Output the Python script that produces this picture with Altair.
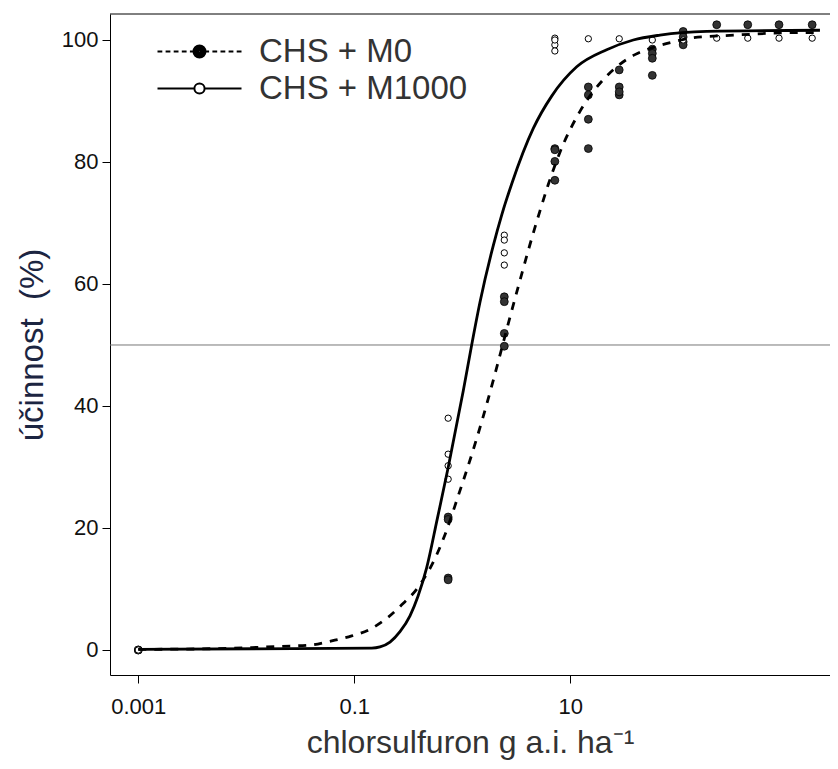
import altair as alt
import pandas as pd

# ---------------- data ----------------
S0 = "CHS + M0"
S1 = "CHS + M1000"

# observed points (dose g a.i./ha, efficacy %)
m0_dose = [0.001, 0.001, 0.74, 0.74, 0.74, 0.74,
           2.45, 2.45, 2.45, 2.45,
           7.2, 7.2, 7.2, 7.2,
           14.7, 14.7, 14.7, 14.7,
           28.4, 28.4, 28.4, 28.4,
           57.5, 57.5, 57.5, 57.5,
           111, 111, 111, 111,
           227, 440, 857, 1738]
m0_val = [0, 0, 21.8, 21.4, 11.8, 11.5,
          57.9, 57.1, 51.9, 49.8,
          82.2, 80.1, 77.0, 82.0,
          92.3, 91.0, 87.0, 82.2,
          95.1, 92.3, 91.0, 91.5,
          98.5, 97.8, 97.0, 94.2,
          101.4, 100.5, 99.7, 99.2,
          102.5, 102.5, 102.5, 102.5]

m1_dose = [0.001, 0.74, 0.74, 0.74, 0.74,
           2.45, 2.45, 2.45, 2.45,
           7.2, 7.2, 7.2, 7.2,
           14.7, 28.4, 57.5, 111,
           227, 440, 857, 1738]
m1_val = [0, 38.0, 32.1, 30.2, 28.0,
          68.0, 67.2, 65.1, 63.1,
          100.3, 99.2, 98.2, 100.0,
          100.2, 100.2, 100.0, 100.0,
          100.3, 100.3, 100.3, 100.3]

# fitted curves
c0_dose = [0.001, 0.0045, 0.0113, 0.0254, 0.0389, 0.0618, 0.0946, 0.1397, 0.2064,
           0.2748, 0.3831, 0.5794, 0.6915, 0.9183, 1.222, 1.564, 1.936, 2.201,
           2.666, 3.350, 4.084, 5.242, 6.256, 8.028, 12.30, 20.21, 26.89, 39.72,
           54.70, 89.88, 128.3, 335, 1248, 1978]
c0_val = [0.1, 0.2, 0.4, 0.65, 0.8, 1.5, 2.3, 3.4, 5.4,
          7.4, 10.1, 15.6, 18.9, 25.3, 32.0, 38.3, 44.2, 47.9,
          53.5, 60.0, 65.5, 72.0, 76.3, 81.6, 88.3, 93.5, 95.6, 97.6,
          98.6, 99.7, 100.3, 100.8, 101.2, 101.2]

c1_dose = [0.001, 0.1449, 0.1730, 0.2141, 0.2649, 0.3280, 0.3889, 0.4683, 0.5868,
           0.7420, 1.0216, 1.2218, 1.4582, 1.9364, 2.3169, 2.8672, 4.544, 6.726,
           11.47, 21.73, 38.31, 67.70, 183.2, 2051]
c1_val = [0.1, 0.3, 0.5, 1.3, 3.0, 5.6, 8.8, 13.5, 21.5,
          30.0, 42.5, 50.0, 57.0, 66.3, 71.3, 76.4, 85.5, 90.8,
          95.6, 98.4, 100.0, 100.8, 101.4, 101.6]

x_ticks = [0.001, 0.1, 10]
y_ticks = [0, 20, 40, 60, 80, 100]
ref_level = [50]

# ---------------- tables ----------------
p0 = pd.DataFrame({"dose": m0_dose, "value": m0_val, "series": S0})
p1 = pd.DataFrame({"dose": m1_dose, "value": m1_val, "series": S1})
l0 = pd.DataFrame({"dose": c0_dose, "value": c0_val, "series": S0})
l1 = pd.DataFrame({"dose": c1_dose, "value": c1_val, "series": S1})
ref = pd.DataFrame({"y": ref_level})
empty = pd.DataFrame({"dose": pd.Series([], dtype=float),
                      "value": pd.Series([], dtype=float),
                      "series": pd.Series([], dtype=str)})

W, H = 720, 661
FONT = "Liberation Sans"

xscale = alt.Scale(type="log", domain=[0.000547, 2541], nice=False)
yscale = alt.Scale(domain=[-4.1, 104.26], nice=False, zero=False)

xaxis = alt.Axis(values=x_ticks, format="~g", title="chlorsulfuron g a.i. ha⁻¹",
                 grid=False, tickSize=8, labelPadding=13, titlePadding=10)
yaxis = alt.Axis(values=y_ticks, title="účinnost\u00a0\u00a0(%)", grid=False,
                 tickSize=8, labelPadding=4, titlePadding=12)


def ring(a):
    return f"M{a},0A{a},{a} 0 1,1 -{a},0A{a},{a} 0 1,1 {a},0Z"


# legend symbols: line sample with the marker in the middle
dash_path = ("M-7,0H-6.2M-5.65,0H-4.85M-4.3,0H-3.5M-2.95,0H-2.15M-1.6,0H-1"
             "M1,0H1.6M2.15,0H2.95M3.5,0H4.3M4.85,0H5.65M6.2,0H7"
             + ring(1) + ring(0.7) + ring(0.4) + ring(0.12))
solid_path = "M-7,0H-0.85M0.85,0H7" + ring(0.85)

legend = alt.Legend(
    title=None, orient="none", legendX=73, legendY=21,
    labelFontSize=33, labelFont=FONT, labelColor="#333", labelLimit=600,
    labelOffset=43, rowPadding=3, symbolSize=144,
    symbolStrokeColor="black", symbolStrokeWidth=2, symbolOpacity=1,
    symbolFillColor="white",
)

x_enc = alt.X("dose:Q", scale=xscale, axis=xaxis)
y_enc = alt.Y("value:Q", scale=yscale, axis=yaxis)

rule50 = alt.Chart(ref).mark_rule(color="#777", strokeWidth=1).encode(
    y=alt.Y("y:Q", scale=yscale, axis=yaxis))

top_frame = alt.Chart(ref).mark_rule(color="black", strokeWidth=1).encode(
    y=alt.value(0), x=alt.value(0), x2=alt.value(W))

pts0 = alt.Chart(p0).mark_point(shape="circle", filled=True, fill="#333333",
                                stroke="black", strokeWidth=0.8, size=62,
                                opacity=1).encode(x=x_enc, y=y_enc)
pts1 = alt.Chart(p1).mark_point(shape="circle", filled=False, fill="white",
                                stroke="black", strokeWidth=1, size=40,
                                opacity=1).encode(x=x_enc, y=y_enc)

# legend carrier (no rows): gives the legend its line+marker symbols
carrier = alt.Chart(empty).mark_point(filled=False, stroke="black", strokeWidth=2,
                                      opacity=1).encode(
    x=x_enc, y=y_enc,
    shape=alt.Shape("series:N",
                    scale=alt.Scale(domain=[S0, S1], range=[dash_path, solid_path]),
                    legend=legend),
)

line0 = alt.Chart(l0).mark_line(color="black", strokeWidth=2.8, strokeDash=[8, 8],
                                interpolate="monotone").encode(x=x_enc, y=y_enc)
line1 = alt.Chart(l1).mark_line(color="black", strokeWidth=2.8,
                                interpolate="monotone").encode(x=x_enc, y=y_enc)

chart = alt.layer(rule50, top_frame, pts0, pts1, carrier, line0, line1).properties(
    width=W, height=H,
    padding={"left": 102, "top": 6, "right": 0, "bottom": 86},
    autosize=alt.AutoSizeParams(type="none"),
).configure_view(stroke="transparent").configure_axis(
    domainColor="black", domainWidth=1, tickColor="black", tickWidth=1,
    labelFont=FONT, labelFontSize=22, labelColor="#111",
    titleFont=FONT, titleFontSize=32, titleFontWeight="normal", titleColor="#333",
).configure_axisY(titleFontSize=33, titleColor="#1c2541")

chart.save("out.html", embed_options={"renderer": "svg", "actions": False})
